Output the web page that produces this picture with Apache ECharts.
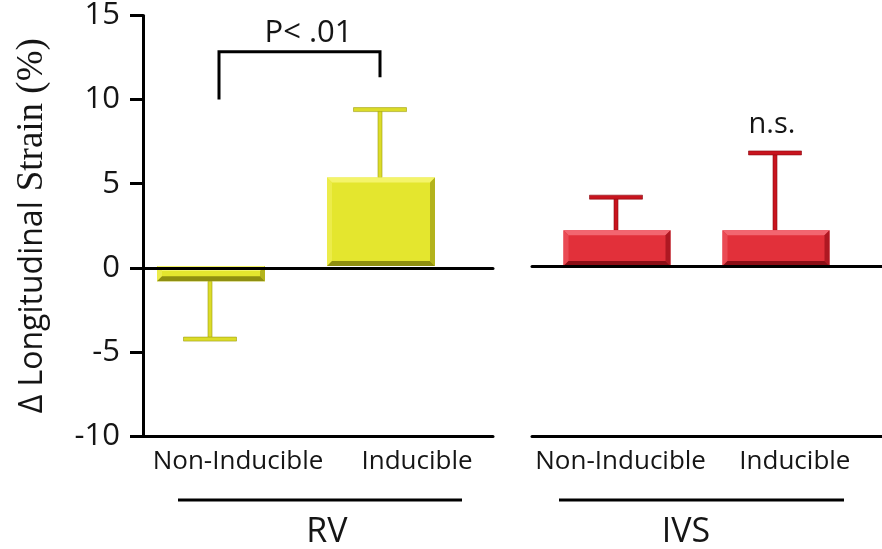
<!DOCTYPE html>
<html><head><meta charset="utf-8">
<script src="https://cdn.jsdelivr.net/npm/echarts@6/dist/echarts.min.js"></script>
<style>html,body{margin:0;padding:0;background:#fff}#c{width:882px;height:549px}</style>
</head><body><div id="c"></div>
<script>
// ---- data ----
const categories = ['Non-Inducible', 'Inducible'];
const groups = ['RV', 'IVS'];
const rvMeans = [-0.9, 5.2];
const rvErrEnds = [-4.3, 9.2];
const ivsMeans = [2.1, 2.1];
const ivsErrEnds = [4.05, 6.65];
const yMin = -10, yMax = 15, yStep = 5;
const bracketLevels = [9.8, 12.6, 11.1]; // left foot, top, right foot
const pText = 'P< .01';
const pTextLevel = 13.7;
const nsText = 'n.s.';
const nsLevel = 8.3;
const yAxisTitleA = 'Δ Longitudinal';
const yAxisTitleB = 'Strain (%)';

// ---- styles ----
const FONT = '"Open Sans", Lato, sans-serif';
const yellow = {face:'#e4e62e', top:'#f4f46a', left:'#ecec4a', right:'#b3b31c', bottom:'#8f8f10', err:'#dcdc28', errEdge:'#9c9c12'};
const red = {face:'#e2303a', top:'#f26670', left:'#ea4a54', right:'#ae1822', bottom:'#8a0e16', err:'#c8141e', errEdge:'#8a0a12'};

// bar grids: grid 2 uses xAxis 4 / yAxis 2, grid 3 uses xAxis 5 / yAxis 3
const XI = {2:4, 3:5};

function barSeries(grid, means, pal, bw) {
  return {
    type:'custom', coordinateSystem:'cartesian2d', xAxisIndex:XI[grid], yAxisIndex:grid, z:3,
    data: means.map((v,i)=>[i,v]),
    renderItem(params, api) {
      const x = api.value(0), v = api.value(1);
      const p0 = api.coord([x,0]), p1 = api.coord([x,v]);
      const xl = p0[0]-bw/2, xr = p0[0]+bw/2;
      const yt = Math.min(p0[1],p1[1]), yb = Math.max(p0[1],p1[1]);
      const b = Math.min(5, (yb-yt)/3);
      return {type:'group', children:[
        {type:'rect', shape:{x:xl,y:yt,width:bw,height:yb-yt}, style:{fill:pal.face}},
        {type:'polygon', shape:{points:[[xl,yt],[xr,yt],[xr-b,yt+b],[xl+b,yt+b]]}, style:{fill:pal.top}},
        {type:'polygon', shape:{points:[[xl,yt],[xl+b,yt+b],[xl+b,yb-b],[xl,yb]]}, style:{fill:pal.left}},
        {type:'polygon', shape:{points:[[xr,yt],[xr,yb],[xr-b,yb-b],[xr-b,yt+b]]}, style:{fill:pal.right}},
        {type:'polygon', shape:{points:[[xl,yb],[xr,yb],[xr-b,yb-b],[xl+b,yb-b]]}, style:{fill:pal.bottom}}
      ]};
    }
  };
}
function errSeries(grid, means, ends, pal) {
  return {
    type:'custom', coordinateSystem:'cartesian2d', xAxisIndex:XI[grid], yAxisIndex:grid, z:2,
    data: means.map((v,i)=>[i,v,ends[i]]),
    renderItem(params, api) {
      const x = api.value(0);
      const a = api.coord([x, api.value(1)]), e = api.coord([x, api.value(2)]);
      const y1 = Math.min(a[1],e[1]), y2 = Math.max(a[1],e[1]);
      const cw = 53, ch = 4, sw = 4;
      return {type:'group', children:[
        {type:'rect', shape:{x:a[0]-sw/2-1, y:y1, width:sw, height:y2-y1}, style:{fill:pal.err, stroke:pal.errEdge, lineWidth:0.6}},
        {type:'rect', shape:{x:e[0]-cw/2-1, y:e[1]-ch/2, width:cw, height:ch}, style:{fill:pal.err, stroke:pal.errEdge, lineWidth:0.6}}
      ]};
    }
  };
}

const TOP = 11, H = 425;
const catLabel = {fontFamily:FONT, fontSize:26, color:'#151515', margin:13, interval:0};
const option = {
  backgroundColor:'#fff',
  animation:false,
  grid:[
    {left:143, top:TOP, width:350, height:H},   // 0 RV frame
    {left:532, top:TOP, width:350, height:H},   // 1 IVS frame
    {left:126, top:TOP, width:340, height:H},   // 2 RV bars
    {left:537.5, top:TOP, width:318, height:H}, // 3 IVS bars
    {left:148.5, top:TOP, width:358, height:H}, // 4 RV labels
    {left:533.5, top:TOP, width:358, height:H}  // 5 IVS labels
  ],
  xAxis:[
    {gridIndex:0, type:'category', data:categories, axisLine:{onZero:false, lineStyle:{color:'#000', width:3}}, axisTick:{show:false}, axisLabel:{show:false}},
    {gridIndex:0, type:'category', data:categories, position:'bottom', axisLine:{onZero:true, lineStyle:{color:'#000', width:3}}, axisTick:{show:false}, axisLabel:{show:false}, z:5},
    {gridIndex:1, type:'category', data:categories, axisLine:{onZero:false, lineStyle:{color:'#000', width:3}}, axisTick:{show:false}, axisLabel:{show:false}},
    {gridIndex:1, type:'category', data:categories, position:'bottom', axisLine:{onZero:true, lineStyle:{color:'#000', width:3}}, axisTick:{show:false}, axisLabel:{show:false}, z:5},
    {gridIndex:2, type:'category', data:categories, show:false},
    {gridIndex:3, type:'category', data:categories, show:false},
    {gridIndex:4, type:'category', data:categories, axisLine:{show:false}, axisTick:{show:false}, axisLabel:catLabel},
    {gridIndex:5, type:'category', data:categories, axisLine:{show:false}, axisTick:{show:false}, axisLabel:catLabel}
  ],
  yAxis:[
    {gridIndex:0, type:'value', min:yMin, max:yMax, interval:yStep,
     axisLine:{show:true, lineStyle:{color:'#000', width:3}},
     axisTick:{show:true, length:13, lineStyle:{color:'#000', width:3}},
     axisLabel:{fontFamily:FONT, fontSize:31, color:'#151515', margin:23},
     splitLine:{show:false},
     name:'{a|'+yAxisTitleA+'}   {b|'+yAxisTitleB+'}', nameLocation:'middle', nameRotate:90, nameGap:92,
     nameTextStyle:{rich:{a:{fontFamily:FONT, fontSize:32, color:'#151515'}, b:{fontFamily:'"Liberation Serif", serif', fontSize:37, color:'#151515'}}}},
    {gridIndex:1, type:'value', min:yMin, max:yMax, interval:yStep, show:false},
    {gridIndex:2, type:'value', min:yMin, max:yMax, interval:yStep, show:false},
    {gridIndex:3, type:'value', min:yMin, max:yMax, interval:yStep, show:false},
    {gridIndex:4, type:'value', min:yMin, max:yMax, interval:yStep, show:false},
    {gridIndex:5, type:'value', min:yMin, max:yMax, interval:yStep, show:false}
  ],
  series:[
    errSeries(2, rvMeans, rvErrEnds, yellow),
    barSeries(2, rvMeans, yellow, 108),
    errSeries(3, ivsMeans, ivsErrEnds, red),
    barSeries(3, ivsMeans, red, 107),
    {
      type:'custom', coordinateSystem:'cartesian2d', xAxisIndex:XI[2], yAxisIndex:2, z:4,
      data:[[0, 1, bracketLevels[0], bracketLevels[1], bracketLevels[2], pTextLevel]],
      renderItem(params, api) {
        const l0 = api.coord([0, api.value(2)]), lt = api.coord([0, api.value(3)]);
        const r0 = api.coord([1, api.value(4)]), t = api.coord([0, api.value(5)]);
        const xl = l0[0]+8, xr = r0[0]-1;
        return {type:'group', children:[
          {type:'polyline', shape:{points:[[xl,l0[1]],[xl,lt[1]],[xr,lt[1]],[xr,r0[1]]]}, style:{stroke:'#000', lineWidth:3, fill:null}},
          {type:'text', style:{text:pText, x:(xl+xr)/2+9, y:t[1], align:'center', verticalAlign:'middle', font:'31px '+FONT, fill:'#151515'}}
        ]};
      }
    },
    {
      type:'custom', coordinateSystem:'cartesian2d', xAxisIndex:XI[3], yAxisIndex:3, z:4,
      data:[[1, nsLevel]],
      renderItem(params, api) {
        const p = api.coord([api.value(0), api.value(1)]);
        return {type:'text', style:{text:nsText, x:p[0]-4, y:p[1], align:'center', verticalAlign:'middle', font:'29px '+FONT, fill:'#151515'}};
      }
    }
  ],
  graphic:[
    {type:'line', shape:{x1:178, y1:500, x2:462, y2:500}, style:{stroke:'#000', lineWidth:3}},
    {type:'line', shape:{x1:559, y1:500, x2:844, y2:500}, style:{stroke:'#000', lineWidth:3}},
    {type:'text', x:327, y:532, style:{text:groups[0], font:'34px '+FONT, fill:'#151515', align:'center', verticalAlign:'middle'}},
    {type:'text', x:686, y:532, style:{text:groups[1], font:'34px '+FONT, fill:'#151515', align:'center', verticalAlign:'middle'}}
  ]
};
const chart = echarts.init(document.getElementById('c'));
chart.setOption(option);
</script>
</body></html>
